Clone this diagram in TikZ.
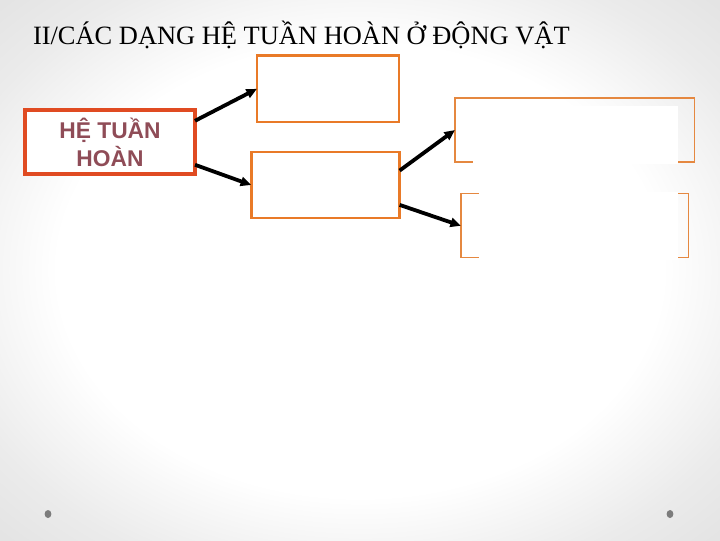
\documentclass[tikz,border=0pt]{standalone}
\usepackage{fontspec}
\setmainfont{Liberation Serif}
\newfontfamily\boxfont{Liberation Sans}
\usepackage[HTML]{xcolor}
\usepackage{tikz}
\usetikzlibrary{positioning, arrows, arrows.meta}

\definecolor{hthred}{HTML}{E04B22}
\definecolor{boxorange}{HTML}{E97A28}
\definecolor{thinorange}{HTML}{E58840}
\definecolor{hthtext}{HTML}{8F4C57}
\definecolor{bgmid}{HTML}{EBEBEB}
\definecolor{bgside}{HTML}{DDDDDD}
\definecolor{bgedge}{HTML}{D2D2D2}
\definecolor{dotgray}{HTML}{7C7C7C}

% White slide that greys towards its edges
\pgfdeclareradialshading{slide}{\pgfpoint{0bp}{0bp}}{%
    color(0bp)=(white); color(21bp)=(white);
    color(30bp)=(bgmid); color(40bp)=(bgside); color(50bp)=(bgedge)}

\begin{document}
\begin{tikzpicture}[
    x=0.025cm, y=-0.025cm, % one unit is one pixel of the slide
    every node/.style={inner sep=0pt, outer sep=0pt},
    mainbox/.style={draw=hthred, line width=2.9pt, fill=white,
        minimum width=4.25cm, minimum height=1.6cm},
    midbox/.style={draw=boxorange, line width=2pt, fill=white},
    sidebox/.style={draw=thinorange, line width=0.9pt},
    cover/.style={fill=white},
    flow/.style={-{Triangle[length=7.5pt, width=6.5pt]}, line width=2.7pt, black}
]
    % Slide background
    \useasboundingbox (0,0) rectangle (720,540);
    \shade[shading=slide] (0,0) rectangle (720,540);

    % Title
    \node[anchor=base west, font=\fontsize{18.8}{22}\selectfont] (Title) at (33,44)
        {II/CÁC DẠNG HỆ TUẦN HOÀN Ở ĐỘNG VẬT};

    % Define the boxes using (x, y) coordinates
    \node[mainbox, align=center, text=hthtext,
        font=\boxfont\bfseries\fontsize{16.2}{19.9}\selectfont] (HTH) at (110,142)
        {HỆ TUẦN\\HOÀN};
    \node[midbox, minimum width=3.55cm, minimum height=1.66cm] (Open) at (328,88.8) {};
    \node[midbox, minimum width=3.71cm, minimum height=1.65cm] (Closed) at (325.4,185) {};
    \node[sidebox, minimum width=5.98cm, minimum height=1.6cm] (Single) at (574.6,130) {};
    \node[sidebox, minimum width=5.68cm, minimum height=1.6cm] (Double) at (574.6,225.8) {};

    % White panels lying over the right boxes
    \node[cover, minimum width=5.125cm, minimum height=1.44cm] (SingleCover) at (575.5,134.75) {};
    \node[cover, minimum width=4.975cm, minimum height=1.69cm] (DoubleCover) at (578.5,225.75) {};

    % Arrows between the boxes
    \draw[flow] (HTH.14) -- (Open.west);
    \draw[flow] (HTH.-15) -- (Closed.west);
    \draw[flow] (Closed.11) -- (Single.west);
    \draw[flow] (Closed.-15) -- (Double.west);

    % Bullets at the foot of the slide
    \fill[dotgray] (48,514) ellipse (3.4 and 4) coordinate (LeftDot);
    \fill[dotgray] (670,514) ellipse (3.4 and 4) coordinate (RightDot);
\end{tikzpicture}
\end{document}
